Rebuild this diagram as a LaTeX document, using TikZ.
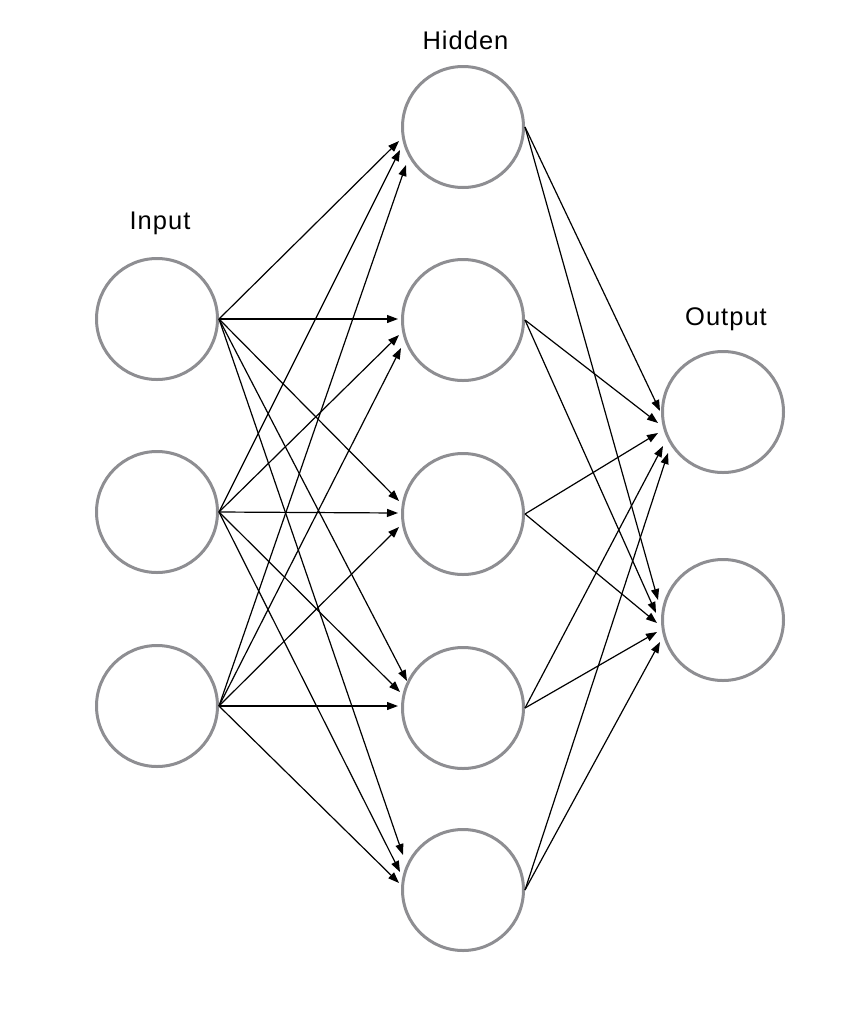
\documentclass[tikz,border=0pt]{standalone}
\usepackage{fontspec}
\setmainfont{Liberation Sans}
\usetikzlibrary{arrows.meta,calc}
\definecolor{ngray}{RGB}{142,142,146}
\begin{document}
\begin{tikzpicture}[x=1pt,y=-1pt,
  neuron/.style={circle,draw=ngray,line width=3pt,minimum size=121pt,inner sep=0pt},
  conn/.style={draw=black,line width=1.2pt,-{Triangle[length=11pt,width=8pt]}},
  lbl/.style={anchor=base,inner sep=0pt,font=\fontsize{25.5}{30}\selectfont\addfontfeature{LetterSpace=4}}]
\useasboundingbox (0,0) rectangle (865,1021);
% labels
\node[lbl] (tin) at (160,229.5) {Input};
\node[lbl] (thid) at (465.5,49) {Hidden};
\node[lbl] (tout) at (726,325.7) {Output};
% input layer
\node[neuron] (i1) at (157,319) {};
\node[neuron] (i2) at (157,512) {};
\node[neuron] (i3) at (157,706) {};
% hidden layer
\node[neuron] (h1) at (463,127) {};
\node[neuron] (h2) at (463,320) {};
\node[neuron] (h3) at (463,514) {};
\node[neuron] (h4) at (463,708) {};
\node[neuron] (h5) at (463,890) {};
% output layer
\node[neuron] (o1) at (723,412) {};
\node[neuron] (o2) at (723,620) {};
% input -> hidden
\draw[conn] (i1.east) -- ($(h1)+(-64,14)$);
\draw[conn] (i2.east) -- ($(h1)+(-63,23)$);
\draw[conn] (i3.east) -- ($(h1)+(-57,38)$);
\draw[conn] (i1.east) -- ($(h2)+(-65,-1)$);
\draw[conn] (i2.east) -- ($(h2)+(-64,15)$);
\draw[conn] (i3.east) -- ($(h2)+(-62,28)$);
\draw[conn] (i1.east) -- ($(h3)+(-64,-13)$);
\draw[conn] (i2.east) -- ($(h3)+(-65,-1)$);
\draw[conn] (i3.east) -- ($(h3)+(-64,13)$);
\draw[conn] (i1.east) -- ($(h4)+(-56,-27)$);
\draw[conn] (i2.east) -- ($(h4)+(-63,-16)$);
\draw[conn] (i3.east) -- ($(h4)+(-65,-2)$);
\draw[conn] (i1.east) -- ($(h5)+(-60,-35)$);
\draw[conn] (i2.east) -- ($(h5)+(-63,-18)$);
\draw[conn] (i3.east) -- ($(h5)+(-64,-7)$);
% hidden -> output
\draw[conn] (h1.east) -- ($(o1)+(-63,-1)$);
\draw[conn] (h2.east) -- ($(o1)+(-65,11)$);
\draw[conn] (h3.east) -- ($(o1)+(-65,21)$);
\draw[conn] (h4.east) -- ($(o1)+(-60,34)$);
\draw[conn] (h5.east) -- ($(o1)+(-55,41)$);
\draw[conn] (h1.east) -- ($(o2)+(-65,-20)$);
\draw[conn] (h2.east) -- ($(o2)+(-67,-7)$);
\draw[conn] (h3.east) -- ($(o2)+(-66,3)$);
\draw[conn] (h4.east) -- ($(o2)+(-66,12)$);
\draw[conn] (h5.east) -- ($(o2)+(-63,22)$);
\end{tikzpicture}
\end{document}
